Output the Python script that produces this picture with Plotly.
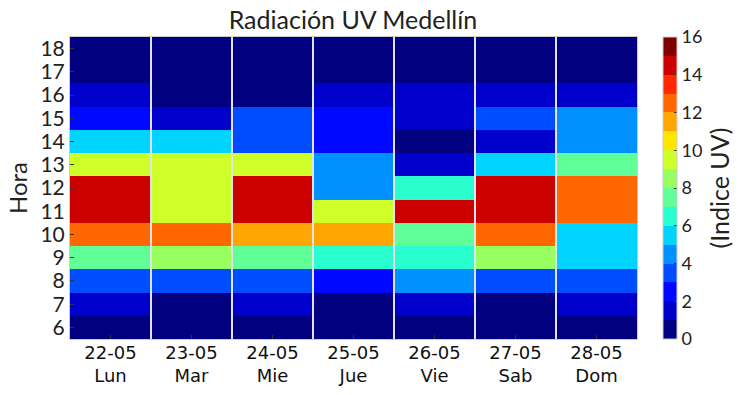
import plotly.graph_objects as go

# Categories
days = ["22-05<br>Lun", "23-05<br>Mar", "24-05<br>Mie", "25-05<br>Jue",
        "26-05<br>Vie", "27-05<br>Sab", "28-05<br>Dom"]
hours = [6, 7, 8, 9, 10, 11, 12, 13, 14, 15, 16, 17, 18]

# UV index per day, hours 6..18 (estimated from colour bins)
uv_lun = [0.5, 1.5, 3.5, 7.5, 12.5, 14.5, 14.5, 9.5, 5.5, 2.5, 1.5, 0.5, 0.5]
uv_mar = [0.5, 0.5, 3.5, 8.5, 12.5, 9.5, 9.5, 9.5, 5.5, 1.5, 0.5, 0.5, 0.5]
uv_mie = [0.5, 1.5, 3.5, 7.5, 11.5, 14.5, 14.5, 9.5, 3.5, 3.5, 0.5, 0.5, 0.5]
uv_jue = [0.5, 0.5, 2.5, 6.5, 11.5, 9.5, 4.5, 4.5, 2.5, 2.5, 1.5, 0.5, 0.5]
uv_vie = [0.5, 1.5, 4.5, 6.5, 7.5, 14.5, 6.5, 1.5, 0.5, 1.5, 1.5, 0.5, 0.5]
uv_sab = [0.5, 0.5, 3.5, 8.5, 12.5, 14.5, 14.5, 5.5, 1.5, 3.5, 1.5, 0.5, 0.5]
uv_dom = [0.5, 1.5, 3.5, 5.5, 5.5, 12.5, 12.5, 7.5, 4.5, 4.5, 1.5, 0.5, 0.5]

series = [uv_lun, uv_mar, uv_mie, uv_jue, uv_vie, uv_sab, uv_dom]
z = [[series[d][h] for d in range(len(days))] for h in range(len(hours))]

# Discrete jet, 16 levels
jet16 = ["#000080", "#0000cd", "#0008ff", "#004cff", "#0090ff", "#00d4ff",
         "#29ffce", "#60ff97", "#97ff60", "#ceff29", "#ffe600", "#ffa700",
         "#ff6800", "#ff2900", "#cd0000", "#800000"]
cs = []
n = len(jet16)
for k, c in enumerate(jet16):
    cs.append([k / n, c])
    cs.append([(k + 1) / n, c])

x_idx = list(range(len(days)))

fig = go.Figure(go.Heatmap(
    x=x_idx, y=hours, z=z,
    colorscale=cs, zmin=0, zmax=16,
    colorbar=dict(
        thickness=14, len=1, lenmode="fraction", y=0.5, yanchor="middle",
        x=1.046, xanchor="left", xpad=0, ypad=0,
        tickvals=[0, 2, 4, 6, 8, 10, 12, 14, 16],
        ticks="inside", ticklen=3, tickcolor="#333",
        outlinecolor="#cccccc", outlinewidth=1,
        tickfont=dict(family="Lato", size=18, color="#222"),
        title=dict(text="(Indice UV)", side="right",
                   font=dict(family="Lato", size=25, color="#222")),
    ),
))

shapes = []
for b in range(len(days) - 1):
    shapes.append(dict(type="line", xref="x", yref="paper",
                       x0=b + 0.5, x1=b + 0.5, y0=0, y1=1,
                       line=dict(color="#e2e2ea", width=2)))

fig.update_layout(
    width=743, height=395,
    margin=dict(l=70, r=106, t=37, b=56, autoexpand=False),
    paper_bgcolor="white", plot_bgcolor="white",
    title=dict(text="Radiación UV Medellín", x=0.475, xanchor="center",
               y=0.95, yanchor="middle",
               font=dict(family="Lato", size=25, color="#222")),
    shapes=shapes,
    showlegend=False,
)
fig.update_xaxes(
    tickvals=x_idx, ticktext=days, range=[-0.5, 6.5],
    ticks="inside", ticklen=4, tickcolor="#333",
    showgrid=False, zeroline=False, automargin=False,
    showline=True, linecolor="#cccccc", linewidth=1, mirror=True,
    tickfont=dict(family="DejaVu Sans", size=18, color="#111"),
    ticklabelstandoff=-3,
)
fig.update_yaxes(
    tickvals=hours, range=[5.5, 18.5],
    ticks="inside", ticklen=4, tickcolor="#333",
    showgrid=False, zeroline=False, automargin=False,
    showline=True, linecolor="#cccccc", linewidth=1, mirror=True,
    tickfont=dict(family="Lato", size=21, color="#222"),
    title=dict(text="Hora", font=dict(family="Lato", size=24, color="#222"),
               standoff=6),
)

fig.write_html("out.html", config={"displayModeBar": False},
               post_script="document.body.style.margin='0px';")
